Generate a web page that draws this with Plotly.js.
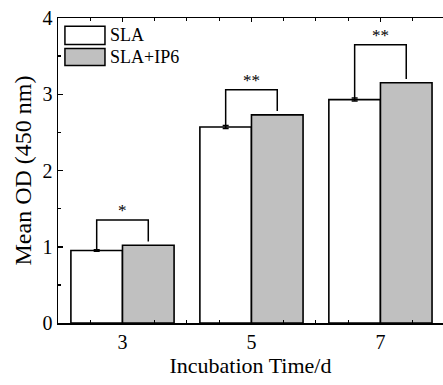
<!DOCTYPE html>
<html>
<head>
<meta charset="utf-8">
<script src="https://cdn.plot.ly/plotly-3.0.1.min.js"></script>
<style>html,body{margin:0;padding:0;background:#fff;}#chart{width:443px;height:385px;}</style>
</head>
<body>
<div id="chart"></div>
<script>
// ---- data ----
const days = [3, 5, 7];
const tickLabels = ['3', '5', '7'];
const seriesNames = ['SLA', 'SLA+IP6'];
const slaValues = [0.95, 2.57, 2.93];
const slaErrors = [0.01, 0.02, 0.02];
const ip6Values = [1.02, 2.73, 3.15];
const sigHeights = [1.35, 3.06, 3.65];
const sigLabels = ['*', '**', '**'];

// ---- styling ----
const FONT = 'Liberation Serif';
const barHalf = 0.4; // half of each bar's width (group width 1.6 with bargap 0.2)

const traces = [
  {
    type: 'bar', name: seriesNames[0], x: days, y: slaValues,
    marker: {color: '#ffffff', line: {color: '#000', width: 1.6}},
    error_y: {type: 'data', array: slaErrors, visible: true, color: '#000', thickness: 1.5, width: 3},
    showlegend: false
  },
  {
    type: 'bar', name: seriesNames[1], x: days, y: ip6Values,
    marker: {color: '#c0c0c0', line: {color: '#000', width: 1.6}},
    showlegend: false
  }
];

// significance brackets built from the data
days.forEach((d, i) => {
  traces.push({
    type: 'scatter', mode: 'lines', showlegend: false, hoverinfo: 'skip',
    x: [d - barHalf, d - barHalf, d + barHalf, d + barHalf],
    y: [slaValues[i] + slaErrors[i], sigHeights[i], sigHeights[i], ip6Values[i] + 0.05],
    line: {color: '#000', width: 1.5}
  });
});

const annotations = days.map((d, i) => ({
  x: d, y: sigHeights[i], xref: 'x', yref: 'y', text: sigLabels[i],
  showarrow: false, yanchor: 'bottom', yshift: -2,
  font: {family: FONT, size: 17, color: '#000000'}
}));

// custom legend
const legendRows = [
  {name: seriesNames[0], color: '#ffffff', y0: 0.913, y1: 0.973},
  {name: seriesNames[1], color: '#c0c0c0', y0: 0.844, y1: 0.900}
];
const shapes = [];
legendRows.forEach(r => {
  shapes.push({type: 'rect', xref: 'paper', yref: 'paper', x0: 0.018, x1: 0.122, y0: r.y0, y1: r.y1,
    fillcolor: r.color, line: {color: '#000', width: 1.5}});
  annotations.push({xref: 'paper', yref: 'paper', x: 0.130, y: (r.y0 + r.y1) / 2, text: r.name,
    showarrow: false, xanchor: 'left', yanchor: 'middle', font: {family: FONT, size: 18, color: '#000'}});
});

const layout = {
  width: 443, height: 385,
  margin: {l: 58, r: 0, t: 18, b: 62},
  paper_bgcolor: '#fff', plot_bgcolor: '#fff',
  barmode: 'group', bargap: 0.2, bargroupgap: 0,
  font: {family: FONT, color: '#000'},
  xaxis: {
    range: [2, 7.97], tickvals: days, ticktext: tickLabels,
    ticks: 'inside', ticklen: 4, tickwidth: 1, tickcolor: '#000',
    minor: {dtick: 0.5, tick0: 0, ticks: 'inside', ticklen: 3, tickcolor: '#000'},
    showline: true, linecolor: '#000', linewidth: 1.5, mirror: 'ticks',
    showgrid: false, zeroline: false, automargin: false,
    tickfont: {family: FONT, size: 20, color: '#000'},
    title: {text: 'Incubation Time/d', font: {family: FONT, size: 22, color: '#000'}, standoff: 6}
  },
  yaxis: {
    range: [0, 4], tickvals: [0, 1, 2, 3, 4],
    ticks: 'inside', ticklen: 5, tickwidth: 1.5, tickcolor: '#000',
    minor: {dtick: 0.5, ticks: 'inside', ticklen: 3, tickcolor: '#000'},
    showline: true, linecolor: '#000', linewidth: 1.5, mirror: false,
    showgrid: false, zeroline: false, automargin: false,
    tickfont: {family: FONT, size: 20, color: '#000'},
    title: {text: 'Mean OD (450 nm)', font: {family: FONT, size: 24, color: '#000'}, standoff: 4}
  },
  shapes: shapes,
  annotations: annotations
};

Plotly.newPlot('chart', traces, layout, {displayModeBar: false, staticPlot: true});
</script>
</body>
</html>
